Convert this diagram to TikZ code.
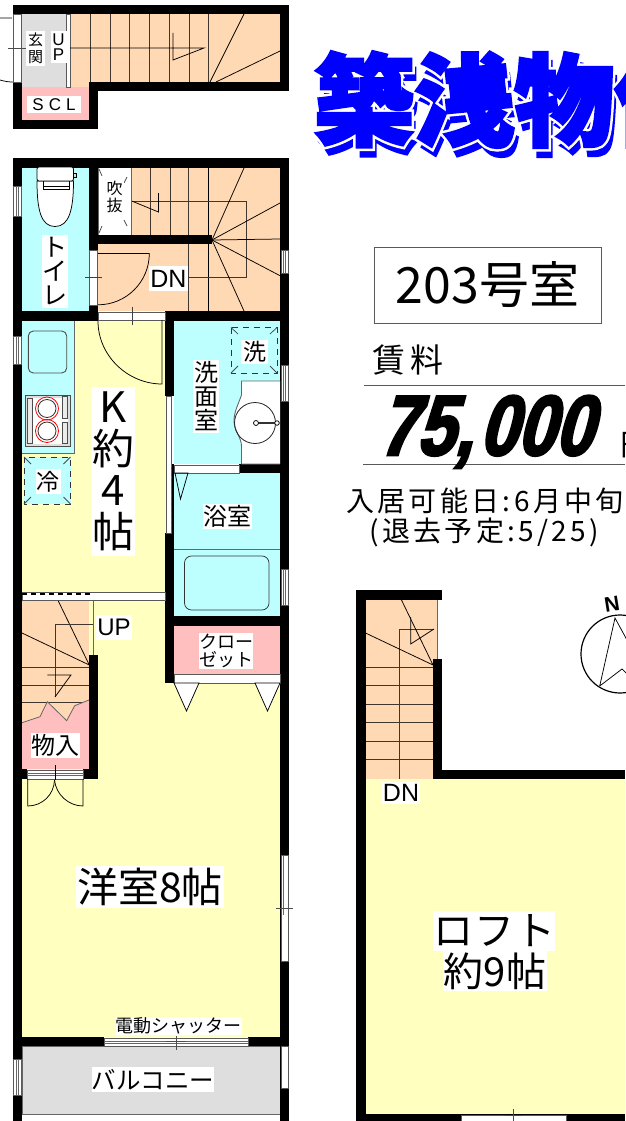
\documentclass[tikz,border=0pt]{standalone}
\usepackage{fontspec}
\setmainfont{Liberation Sans}
\newfontfamily\jp{Noto Sans CJK JP}
\newfontfamily\jpls[LetterSpace=12]{Noto Sans CJK JP}
\newfontfamily\jpt[FakeBold=3]{Noto Sans CJK JP}
\newfontfamily\jph[FakeBold=8]{Noto Sans CJK JP}
\newfontfamily\pricefont[FakeSlant=0.27,FakeBold=3,FakeStretch=0.8]{Liberation Sans}
\definecolor{wcyan}{HTML}{BDFFFF}
\definecolor{wyel}{HTML}{FFFFC0}
\definecolor{wor}{HTML}{FFD9B3}
\definecolor{wpink}{HTML}{FFBFBF}
\definecolor{wgray}{HTML}{DEDEDE}
\newcommand\fs[2]{\fontsize{#1}{#2}\selectfont}
\newcommand\wall[4]{\fill[black] (#1,#2) rectangle (#3,#4);}
\newcommand\zone[5]{\fill[#1] (#2,#3) rectangle (#4,#5);}
% vertical window: x1 y1 x2 y2
\newcommand\vwin[4]{\draw[winb] (#1,#2) rectangle (#3,#4);
  \draw[gline,line width=.6] ({(#1+#3)/2-1.2},#2) -- ({(#1+#3)/2-1.2},#4) ({(#1+#3)/2+1.2},#2) -- ({(#1+#3)/2+1.2},#4);}
\newcommand\hwin[4]{\draw[winb] (#1,#2) rectangle (#3,#4);
  \draw[gline,line width=.6] (#1,{(#2+#4)/2-.8}) -- (#3,{(#2+#4)/2-.8}) (#1,{(#2+#4)/2+.8}) -- (#3,{(#2+#4)/2+.8});}
\tikzset{
  winb/.style={fill=white,draw=black!65,line width=.8},
  gline/.style={draw=black!60},
  thin1/.style={draw=black,line width=.75},
  stair/.style={draw=black!75!wor,line width=.9},
  lab/.style={fill=white,inner sep=0,align=center},
  dashb/.style={draw=black!80,line width=.8,dash pattern=on 6pt off 5pt},
}
\begin{document}
\begin{tikzpicture}[x=1pt,y=-1pt]
\useasboundingbox (0,0) rectangle (625,1121);
\fill[white] (0,0) rectangle (625,1121);

%% ---------- upper entrance unit ----------
\zone{wgray}{22}{14}{66}{87}
\zone{wor}{70}{14}{280}{82}
\zone{wor}{70}{82}{90}{87}
\zone{wpink}{22}{87}{90}{120}
\draw[winb] (66,14) rectangle (70,87);
\foreach \x in {90,110,129.5,149.5,169,189,208.5} \draw[stair] (\x,14) -- (\x,82);
\draw[thin1] (70,48) -- (204,48) -- (173,60) -- (173,33);
\draw[thin1] (244,14) -- (210,82) (280,51) -- (216,82);
\wall{12.5}{5}{289}{14.5}
\wall{280}{5}{289}{91}
\wall{89}{82}{289}{91}
\wall{12.5}{82}{22}{129}
\wall{12.5}{120}{98}{129}
\wall{89}{82}{98}{129}
\wall{12.5}{5}{22}{14.5}
\draw[winb] (13.5,14) rectangle (21.5,82);
\draw[thin1,black!70] (8,48) -- (26,48);
\draw[thin1] (0,18) -- (12,18) (0,80) .. controls (5,81.5) and (9,82) .. (13,82);
\node[lab,minimum width=19,minimum height=35,font=\jp\fs{15}{17}] (genkan) at (35.5,48.5) {玄\\関};
\node[lab,minimum width=16,minimum height=32,font=\fs{17}{15}] (upv) at (58.5,47) {U\\P};
\node[lab,minimum width=54,minimum height=17,font=\fs{17}{17}] (scl) at (54,105) {S\hspace{5pt}C\hspace{5pt}L};

%% ---------- room fills ----------
\zone{wcyan}{22}{168}{89}{311}
\zone{white}{98}{168}{131}{235}
\zone{wor}{131}{168}{280}{244}
\zone{wor}{98}{244}{280}{311}
\zone{wyel}{22}{321}{165}{592}
\zone{wcyan}{22}{321}{74.5}{453}
\draw[gline,line width=.8] (74.5,321) -- (74.5,453) -- (22,453);
\zone{wcyan}{24}{457}{70.5}{504}
\zone{wcyan}{174}{321}{280}{464}
\zone{wcyan}{174}{473}{280}{616}
\zone{wyel}{22}{600}{165}{683}
\zone{wyel}{22}{683}{280}{1037}
\zone{wpink}{174}{626}{280}{674}
\zone{wor}{22}{601}{89}{722}
\fill[wpink] (22,722.7) -- (40,716.7) -- (47.3,701.7) -- (66.7,720.7) -- (74.7,705.7) -- (89,700) -- (89,769) -- (22,769) -- cycle;
\zone{wgray}{22}{1046}{280}{1114}
\draw[gline,line width=.9] (22,1046) rectangle (280,1114);

%% ---------- middle stairs ----------
\foreach \x in {150.7,170,188.7} \draw[stair] (\x,168) -- (\x,235);
\draw[stair] (188.7,244) -- (188.7,311);
\draw[thin1] (208.3,168) -- (208.3,235) (208.3,244) -- (208.3,311);
\draw[stair] (131.7,201) -- (246,201) -- (246,277.7) -- (188.7,277.7);
\draw[thin1] (131.7,201) -- (158.5,212) -- (158.5,193);
\foreach \a/\b in {244/168,280/203,280/239,280/275.7,244/311} \draw[thin1] (212,240) -- (\a,\b);
\draw[gline,line width=.8] (98,168) -- (98,235) (131,168) -- (131,235);

%% dashes of the void
\draw[thin1,black!70] (99,169) -- (102,176) (127,177) -- (124,183) (99,233) -- (102,226) (127,226) -- (124,220);
\node[lab,minimum width=18,minimum height=38,font=\jp\fs{16}{17}] (fukinuke) at (114.5,197) {吹\\抜};

%% ---------- walls, main unit ----------
\wall{12.5}{158}{289}{168}
\wall{12.5}{158}{22}{1121}
\wall{280}{158}{289}{1121}
\wall{89}{168}{98}{321}
\wall{89}{235}{212}{244}
\wall{12.5}{311}{98}{321}
\wall{165}{311}{289}{321}
\wall{165}{311}{174}{396}
\wall{171}{464}{174}{533}
\wall{165}{533}{174}{683}
\wall{239}{464}{289}{473}
\wall{165}{616}{289}{625.5}
\wall{12.5}{592}{22}{601}
\wall{22}{597}{93}{601}
\wall{89}{655}{98}{779}
\wall{12.5}{769}{27}{779}
\wall{83}{769}{98}{779}
\wall{12.5}{1037}{104}{1046}
\wall{248}{1037}{289}{1046}

%% windows, doors in walls
\vwin{13.5}{186}{21}{216}
\vwin{13.5}{336}{21}{364}
\vwin{13.5}{1059}{21}{1095}
\vwin{281}{250}{288}{273}
\vwin{281}{365}{288}{401}
\vwin{281}{569}{288}{605}
\draw[winb] (281,855) rectangle (288,961);
\draw[gline,line width=.6] (283,855) -- (283,915);
\draw[winb] (281,1046) rectangle (288,1088);
\draw[winb] (89.5,250) rectangle (97.5,305);
\draw[winb] (98,312.5) rectangle (165,320.5);
\draw[winb] (174,465) rectangle (239,473);
\draw[winb] (174,674) rectangle (280,683);
\draw[winb] (166,396) rectangle (171,533);
\draw[gline,line width=.7,dashed] (171,464) -- (171,533);
\draw[winb] (22,592) rectangle (165,600);
\draw[draw=black,line width=1.6,dash pattern=on 5pt off 4pt] (22,594) -- (93,594);
\hwin{27}{770}{83}{779}
\hwin{104}{1038}{248}{1046}

%% door swings
\draw[thin1] (98,253.5) -- (149.3,253.5) arc[start angle=0,end angle=90,radius=51.3];
\draw[thin1,black!75] (85,277) -- (102,277);
\draw[thin1] (162,320) -- (162,384) .. controls (128,384) and (98,356) .. (98,321);
\draw[thin1,black!75] (132,307) -- (132,325);
\draw[thin1] (175,473) -- (188,473) -- (180.5,499) -- cycle;
\draw[thin1,fill=white] (174,683) -- (199,683) -- (186.5,711) -- cycle;
\draw[thin1,fill=white] (255,683) -- (280,683) -- (267.5,711) -- cycle;
\draw[thin1] (27.7,779) -- (27.7,806) .. controls (42,806) and (54,795) .. (54.5,780);
\draw[thin1] (83,779) -- (83,806) .. controls (69,806) and (56,795) .. (54.5,780);
\draw[thin1] (55,765) -- (55,780);
\draw[thin1,black!70] (276,908) -- (293,908) (176,1036) -- (176,1050) (166,1041) -- (186,1041);

%% ---------- lower-left stairs ----------
\draw[thin1] (58.3,601) -- (89.3,665) (22,633) -- (89.3,665);
\foreach \y in {667.3,685,702.7} \draw[stair] (22,\y) -- (89,\y);
\fill[wpink] (22,722.7) -- (40,716.7) -- (47.3,701.7) -- (66.7,720.7) -- (74.7,705.7) -- (89,700) -- (89,720) -- (22,730) -- cycle;
\draw[gline,line width=.8] (22,722.7) -- (40,716.7) -- (47.3,701.7) -- (66.7,720.7) -- (74.7,705.7) -- (89,700);
\draw[stair] (55,697) -- (55,624.7) -- (93,624.7);
\draw[gline,line width=.8] (93,601) -- (93,655);
\draw[thin1] (47.3,675) -- (71,675) -- (55,697);

%% ---------- fixtures ----------
\draw[fill=wcyan,draw=black!70,line width=.9,rounded corners=5] (28.3,331) rectangle (66.7,373);
\draw[fill=wgray,draw=black!70,line width=1] (25.5,395.5) rectangle (70,446);
\fill[white] (27.5,397.5) rectangle (68,444);
\draw[fill=wgray!60,draw=black!70,line width=.7] (27.5,398) rectangle (32,443);
\draw[fill=wgray!60,draw=black!70,line width=.7] (62.5,396.5) rectangle (67.5,418);
\draw[fill=wgray!60,draw=black!70,line width=.7] (62.5,422) rectangle (67.5,443);
\foreach \y in {408.5,431} {\draw[red,line width=.8] (47,\y) circle (11.5); \draw[black!80,line width=.8] (47,\y) circle (9);}
% toilet
\draw[thin1,fill=white] (37,181) .. controls (37,210) and (41,226.5) .. (55,226.5) .. controls (69,226.5) and (73.5,210) .. (73.5,181) -- cycle;
\draw[thin1,fill=white,rounded corners=2] (37,181) -- (37,167) -- (73.5,167) -- (73.5,181) -- cycle;
\draw[thin1] (43,181) -- (43,189) -- (69,189) -- (69,181) (43,186.5) -- (69,186.5);
\draw[thin1,fill=wgray] (73.5,173.5) rectangle (76.5,177.5);
% washing machine, fridge
\draw[dashb] (231,327.5) rectangle (277,373);
\draw[thin1,black!70] (231,327.5) -- (238,334) (277,327.5) -- (270,334) (231,373) -- (238,366) (277,373) -- (270,366);
\draw[dashb] (24,457) rectangle (70.5,504);
\draw[thin1,black!70] (24,457) -- (31,464) (70.5,457) -- (63.5,464) (24,504) -- (31,497) (70.5,504) -- (63.5,497);
% basin
\draw[gline,line width=.9,fill=white] (280,381) -- (241.5,381) -- (241.5,395) .. controls (238,405) and (234,412) .. (234,421) .. controls (234,430) and (241.5,438) .. (241.5,446) -- (241.5,464) -- (280,464);
\draw[black!85,line width=.8] (255,423) circle (20.5);
\draw[line width=2.2,black!80] (258,423) -- (276,423);
\draw[thin1,fill=white] (256,423) circle (2.5);
\draw[thin1,fill=white] (277,423) circle (2.3);
% bath
\draw[gline,line width=.8] (174,549) -- (280,549);
\draw[thin1,black!80,rounded corners=7] (184.5,556) rectangle (269,610);

%% ---------- labels, main unit ----------
\node[lab,minimum width=26,minimum height=73,font=\jp\fs{25}{24}] (toilet) at (55,271.5) {ト\\イ\\レ};
\node[lab,minimum width=39,minimum height=25,font=\fs{25}{25}] (dn1) at (168.5,278.5) {DN};
\node[lab,minimum width=44,minimum height=169,font=\jp\fs{42}{41.5}] (kroom) at (113,471.5) {K\\約\\4\\帖};
\node[lab,minimum width=26,minimum height=73,font=\jp\fs{24}{24}] (senmen) at (206,396) {洗\\面\\室};
\node[lab,minimum width=27,minimum height=24,font=\jp\fs{23}{23}] (sen) at (254.5,352) {洗};
\node[lab,minimum width=25,minimum height=25,font=\jp\fs{23}{23}] (rei) at (48,481.5) {冷};
\node[lab,minimum width=49,minimum height=25,font=\jp\fs{24}{24}] (yoku) at (227.5,516) {浴室};
\node[lab,minimum width=36,minimum height=25,font=\fs{24}{24}] (up2) at (114,627.5) {UP};
\node[lab,minimum width=54,minimum height=36,font=\jp\fs{18}{18}] (closet) at (226,651) {クロー\\ゼット};
\node[lab,minimum width=49,minimum height=25,font=\jp\fs{24}{24}] (mono) at (55.5,745) {物入};
\node[lab,minimum width=148,minimum height=42,font=\jp\fs{41}{41}] (yoshitsu) at (150,887) {洋室8帖};
\node[lab,minimum width=125,minimum height=18,font=\jp\fs{18}{18}] (shutter) at (178.5,1025.5) {電動シャッター};
\node[lab,minimum width=122,minimum height=25,font=\jp\fs{24.5}{25}] (balcony) at (153,1079.5) {バルコニー};

%% ---------- loft ----------
\zone{wor}{365.5}{600}{437}{659}
\zone{wor}{365.5}{659}{433}{779}
\zone{wyel}{365.5}{779}{625}{1115}
\foreach \y in {667.3,685.7,704,722.7,741.3,759.7} \draw[stair] (365.5,\y) -- (433,\y);
\draw[stair] (399,779) -- (399,629) -- (434,629);
\draw[thin1] (401,599) -- (433,665) (365.5,633) -- (433,665);
\draw[thin1] (410.7,617) -- (410.7,644) -- (434,629);
\draw[gline,line width=.9] (437,600) -- (437,659);
\wall{356}{590}{365.5}{1121}
\wall{356}{590}{442}{600}
\wall{433}{659}{442}{779}
\wall{433}{769.5}{625}{779}
\wall{356}{1114}{625}{1121}
\draw[winb] (461,1115) rectangle (566,1121);
\draw[thin1,black!70] (513,1109) -- (513,1121) (505,1115.5) -- (522,1115.5);
\node[lab,minimum width=38,minimum height=22,font=\fs{25}{25}] (dn2) at (401,793) {DN};
\node[lab,minimum width=122,minimum height=40,font=\jp\fs{40}{40}] (loft) at (494,930.5) {ロ\hspace{1pt}フ\hspace{1pt}ト};
\node[lab,minimum width=104,minimum height=40,font=\jp\fs{40}{40}] (loftsize) at (495,971) {約9帖};

%% ---------- compass ----------
\draw[black,line width=1.2] (620,654) circle (39);
\draw[thin1] (599.7,686) -- (615,618) -- (652,686) (599.7,686) -- (622,669) -- (640,686);
\node[inner sep=0,font=\bfseries\fs{21}{21},rotate=9] (north) at (612,604) {N};

%% ---------- header text ----------
\node[lab,draw=black!65,line width=.9,minimum width=227,minimum height=76,font=\jp\fs{50}{50}] (room) at (487.5,285) {203号室};
\node[inner sep=0,font=\jp\fs{33}{33}] (chinryo) at (408,360) {賃\hspace{6pt}料};
\draw[black!65,line width=1] (364,385.5) -- (625,385.5);
\draw[black!65,line width=1] (363,464) -- (625,464);
\node[anchor=base west,inner sep=0,font=\pricefont\bfseries\fs{85}{85}] (price) at (378,455) {75,\kern6pt 000};
\node[anchor=base west,inner sep=0,font=\jp\fs{30}{30}] (yen) at (620,455) {円};
\node[anchor=west,inner sep=0,font=\jpls\fs{28}{28}] (avail) at (346,501) {入居可能日:6月中旬};
\node[anchor=west,inner sep=0,font=\jpls\fs{28}{28}] (leave) at (369,532) {(退去予定:5/25)};

%% ---------- title ----------
\node[anchor=base west,inner sep=0,font=\jpt\bfseries\fs{100}{100},text=blue] (titleshadow) at (318,147) {築浅物件};
\node[anchor=base west,inner sep=0,font=\jph\bfseries\fs{100}{100},text=white] (titlehalo) at (314,138) {築浅物件};
\node[anchor=base west,inner sep=0,font=\jpt\bfseries\fs{100}{100},text=blue] (title) at (314,138) {築浅物件};
\end{tikzpicture}
\end{document}
